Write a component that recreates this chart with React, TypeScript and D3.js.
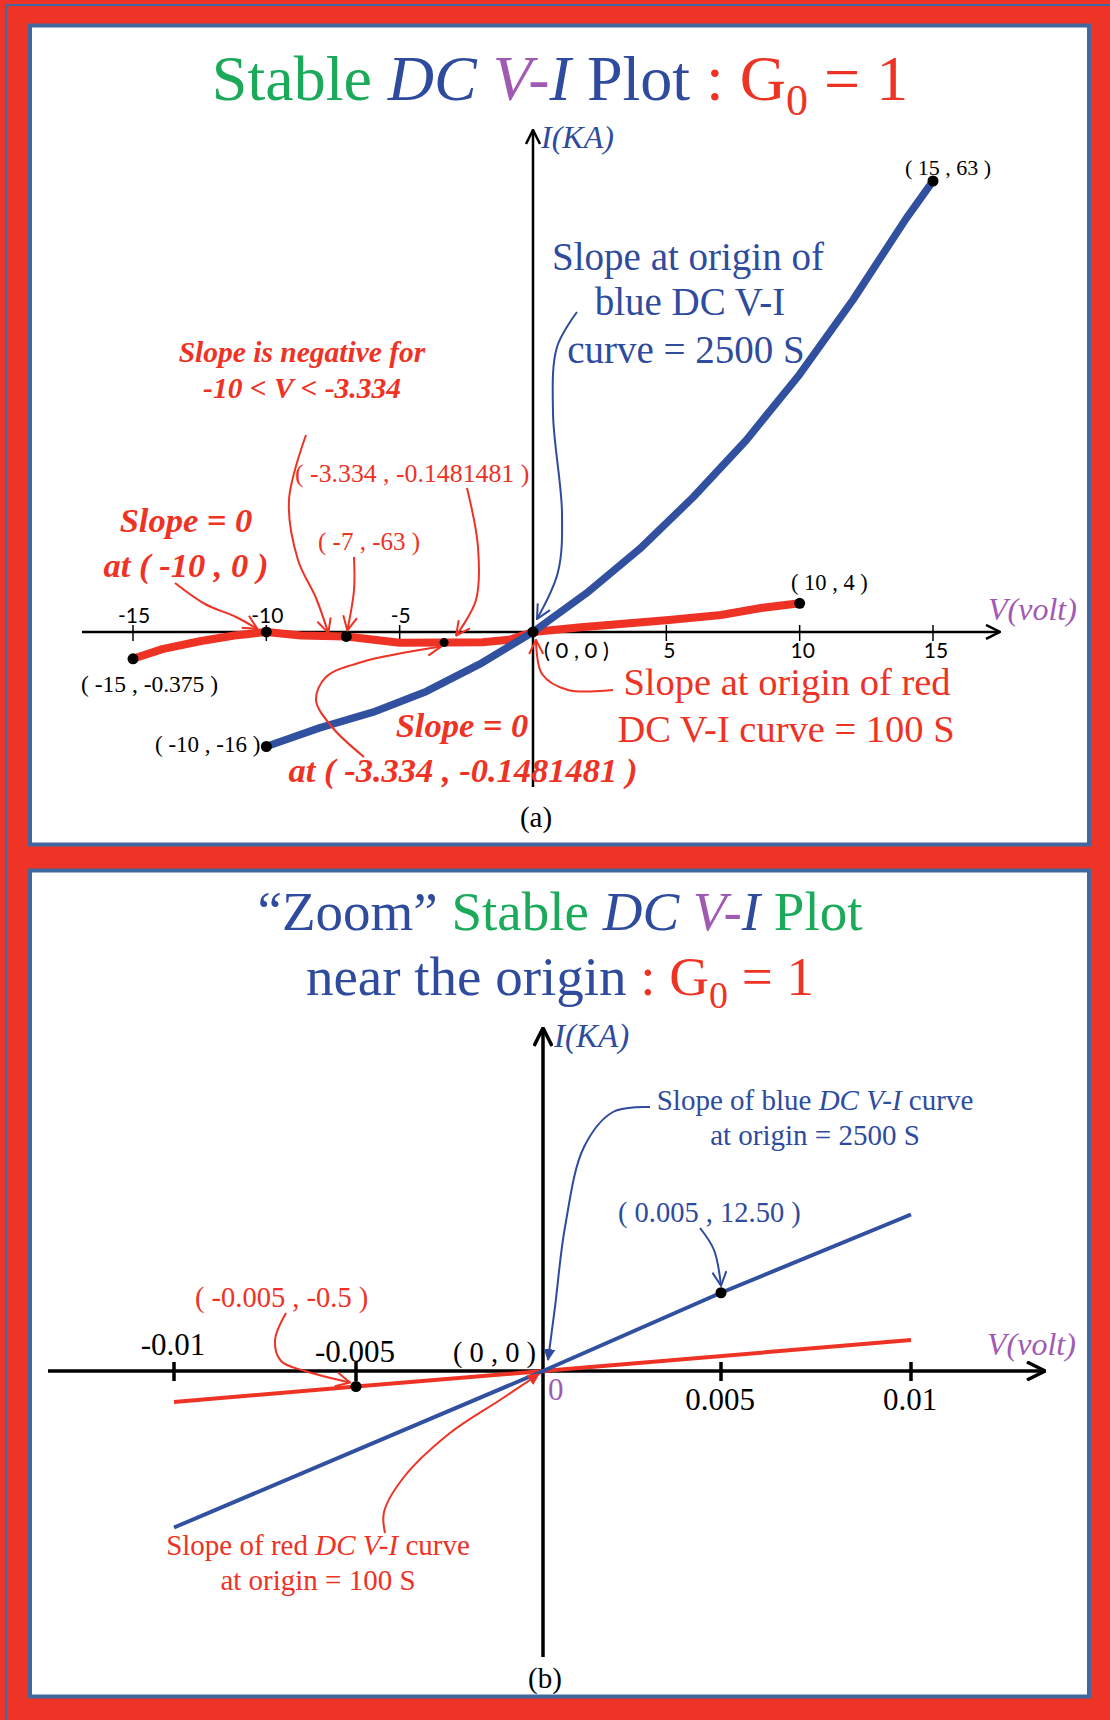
import React from "react";
import * as d3 from "d3";

// ---------- data: panel (a), full DC V-I curves ----------
const V_TICKS_A = [-15, -10, -5, 5, 10, 15];
// blue DC V-I curve, V in volt, I in KA
const BLUE_A_V = [-10, -8, -6, -4, -2, 0, 2, 4, 6, 8, 10, 12, 14, 15];
const BLUE_A_I = [-16, -13.4, -11.2, -8.3, -4.5, 0, 5.4, 11.6, 18.8, 26.8, 36, 46.4, 57.8, 63];
// red DC V-I curve
const RED_A_V = [-15, -13.9, -12.5, -11.2, -10, -8.7, -7, -5, -3.334, -1.9, -0.9, 0, 1.8, 5.1, 7.05, 8.55, 10];
const RED_A_I = [-0.375, -0.24, -0.13, -0.05, 0, -0.05, -0.063, -0.15, -0.1481481, -0.145, -0.11, 0, 0.66, 1.68, 2.37, 3.35, 4];
// marked points
const BLUE_A_DOTS: [number, number][] = [[15, 63], [-10, -16], [0, 0]];
const RED_A_DOTS: [number, number][] = [[-15, -0.375], [-10, 0], [-7, -0.063], [-3.334, -0.1481481], [10, 4]];

// ---------- data: panel (b), zoom near the origin ----------
const V_TICKS_B = [-0.01, -0.005, 0.005, 0.01];
const V_TICK_LABELS_B = ["-0.01", "-0.005", "0.005", "0.01"];
const BLUE_B_V = [-0.01, 0, 0.005, 0.01];
const BLUE_B_I = [-25, 0, 12.5, 25];
const RED_B_V = [-0.01, -0.005, 0, 0.01];
const RED_B_I = [-1, -0.5, 0, 1];
const BLUE_B_DOT: [number, number] = [0.005, 12.5];
const RED_B_DOT: [number, number] = [-0.005, -0.5];

// ---------- colours & fonts ----------
const RED = "#EE3224";
const BLUE = "#2E4B9E";
const CURVE_BLUE = "#3150A0";
const GREEN = "#1AAA5A";
const PURPLE = "#A05AB4";
const FRAME_RED = "#EE3426";
const FRAME_BLUE = "#41679F";
const SERIF = "'Liberation Serif', 'Times New Roman', serif";
const SANS = "Lato, 'Open Sans', sans-serif";

const zip = (a: number[], b: number[]) => a.map((v, i) => [v, b[i]] as [number, number]);

// ---------- scales ----------
const xA = d3.scaleLinear().domain([-15, 15]).range([133, 933]);
const yA = d3.scaleLinear().domain([-16, 63]).range([746.5, 181]);
// negative branch of the red curve is drawn ten times taller than the current axis
const yRedA = d3.scaleLinear().domain([-1, 0, 1]).range([yA(-10), yA(0), yA(1)]);

// hand-spaced tick marks on the zoomed voltage axis
const xB = d3.scaleLinear().domain([-0.01, -0.005, 0, 0.005, 0.01]).range([174, 356, 543, 721, 911]);
const yBlueB = d3.scaleLinear().domain([-25, 25]).range([1527.5, 1214.5]);
const yRedB = d3.scaleLinear().domain([-1, 1]).range([1402, 1340]);

const leader = d3.line<[number, number]>().curve(d3.curveCatmullRom.alpha(0.5));

function Markers() {
  const open = (id: string, color: string, w: number, s: number) => (
    <marker id={id} viewBox={`0 0 ${s} ${s}`} refX={s - 1} refY={s / 2} markerWidth={s} markerHeight={s}
      markerUnits="userSpaceOnUse" orient="auto">
      <path d={`M1,1 L${s - 1},${s / 2} L1,${s - 1}`} fill="none" stroke={color} strokeWidth={w} />
    </marker>
  );
  const solid = (id: string, color: string, s: number) => (
    <marker id={id} viewBox={`0 0 ${s} ${s}`} refX={s - 1} refY={s / 2} markerWidth={s} markerHeight={s}
      markerUnits="userSpaceOnUse" orient="auto">
      <path d={`M0,0 L${s},${s / 2} L0,${s} Z`} fill={color} />
    </marker>
  );
  return (
    <defs>
      {open("redOpen", RED, 2, 16)}
      {open("blueOpen", BLUE, 2, 16)}
      {open("axisA", "#000", 2.5, 16)}
      {open("axisB", "#000", 3.5, 20)}
      {solid("redSolid", RED, 12)}
      {solid("blueSolid", BLUE, 12)}
    </defs>
  );
}

function Leader({ pts, color, marker, w = 2 }: { pts: [number, number][]; color: string; marker: string; w?: number }) {
  return <path d={leader(pts) || ""} fill="none" stroke={color} strokeWidth={w} markerEnd={`url(#${marker})`} />;
}

function PanelA() {
  const x0 = xA(0);
  const y0 = yA(0);
  const line = d3.line<[number, number]>();
  const bluePath = line(zip(BLUE_A_V, BLUE_A_I).map(([v, i]) => [xA(v), yA(i)]));
  const redPath = line(zip(RED_A_V, RED_A_I).map(([v, i]) => [xA(v), yRedA(i)]));
  const m7 = RED_A_DOTS[2];
  const m3 = RED_A_DOTS[3];
  return (
    <g>
      {/* title */}
      <text x={560} y={100} textAnchor="middle" fontFamily={SERIF} fontSize={64} style={{ whiteSpace: "pre" }}>
        <tspan fill={GREEN}>Stable </tspan>
        <tspan fill={BLUE} fontStyle="italic">DC </tspan>
        <tspan fill={PURPLE} fontStyle="italic">V-</tspan>
        <tspan fill={BLUE} fontStyle="italic">I</tspan>
        <tspan fill={BLUE}> Plot </tspan>
        <tspan fill={RED}>: G</tspan>
        <tspan fill={RED} fontSize={44} dy={15}>0</tspan>
        <tspan fill={RED} dy={-15}> = 1</tspan>
      </text>

      {/* axes */}
      <line x1={82} x2={1000} y1={y0} y2={y0} stroke="#000" strokeWidth={2.5} markerEnd="url(#axisA)" />
      <line x1={x0} x2={x0} y1={787} y2={130} stroke="#000" strokeWidth={2.5} markerEnd="url(#axisA)" />
      {V_TICKS_A.map((t) => (
        <g key={t}>
          <line x1={xA(t)} x2={xA(t)} y1={y0 - 7} y2={y0 + 9} stroke="#000" strokeWidth={1.5} />
          <text x={xA(t) + (t < 0 ? 1 : 3)} y={t < 0 ? y0 - 9 : y0 + 26} textAnchor="middle" fontFamily={SANS} fontSize={21}>{t}</text>
        </g>
      ))}
      <text x={541} y={148} fontFamily={SERIF} fontStyle="italic" fontSize={32} fill={BLUE}>I(KA)</text>
      <text x={988} y={620} fontFamily={SERIF} fontStyle="italic" fontSize={32} fill={PURPLE}>V(volt)</text>

      {/* curves */}
      <path d={redPath || ""} fill="none" stroke={RED} strokeWidth={8} strokeLinejoin="round" strokeLinecap="round" />
      <path d={bluePath || ""} fill="none" stroke={CURVE_BLUE} strokeWidth={7.5} strokeLinejoin="round" />
      {RED_A_DOTS.map(([v, i]) => (
        <circle key={"r" + v} cx={xA(v)} cy={yRedA(i)} r={v === -3.334 ? 4.5 : 5.5} fill="#000" />
      ))}
      {BLUE_A_DOTS.map(([v, i]) => (
        <circle key={"b" + v} cx={xA(v)} cy={yA(i)} r={5.5} fill="#000" />
      ))}

      {/* point labels */}
      <text x={905} y={175} fontFamily={SERIF} fontSize={22}>( 15 , 63 )</text>
      <text x={791} y={590} fontFamily={SERIF} fontSize={22.5}>( 10 , 4 )</text>
      <text x={544} y={658} fontFamily={SANS} fontSize={22}>( 0 , 0 )</text>
      <text x={81} y={692} fontFamily={SERIF} fontSize={23.5}>( -15 , -0.375 )</text>
      <text x={155} y={752} fontFamily={SERIF} fontSize={23}>( -10 , -16 )</text>
      <text x={295} y={482} fontFamily={SERIF} fontSize={25.8} fill={RED}>( -3.334 , -0.1481481 )</text>
      <text x={318} y={550} fontFamily={SERIF} fontSize={25} fill={RED}>( -7 , -63 )</text>

      {/* annotations */}
      <g fontFamily={SERIF} fontSize={39} fill={BLUE} textAnchor="middle">
        <text x={688} y={270}>Slope at origin of</text>
        <text x={690} y={315}>blue DC V-I</text>
        <text x={686} y={363}>curve = 2500 S</text>
      </g>
      <g fontFamily={SERIF} fontSize={29.5} fill={RED} fontWeight="bold" fontStyle="italic" textAnchor="middle">
        <text x={302} y={362}>Slope is negative for</text>
        <text x={302} y={398}>-10 &lt; V &lt; -3.334</text>
      </g>
      <g fontFamily={SERIF} fontSize={34.5} fill={RED} fontWeight="bold" fontStyle="italic" textAnchor="middle">
        <text x={186} y={532}>Slope = 0</text>
        <text x={186} y={577}>at ( -10 , 0 )</text>
        <text x={462} y={737}>Slope = 0</text>
        <text x={463} y={782}>at ( -3.334 , -0.1481481 )</text>
      </g>
      <g fontFamily={SERIF} fontSize={38.5} fill={RED} textAnchor="middle">
        <text x={787} y={695}>Slope at origin of red</text>
        <text x={786} y={742}>DC V-I curve = 100 S</text>
      </g>
      <text x={536} y={827} textAnchor="middle" fontFamily={SERIF} fontSize={29}>(a)</text>

      {/* leaders */}
      <Leader color={RED} marker="redOpen" pts={[[175, 583], [205, 604], [236, 617], [xA(-10) - 9, y0 - 3]]} />
      <Leader color={RED} marker="redOpen" pts={[[306, 435], [289, 500], [298, 560], [316, 598], [xA(m7[0]) - 18, y0 + 1]]} />
      <Leader color={RED} marker="redOpen" pts={[[354, 557], [354, 590], [xA(m7[0]) + 1, yRedA(m7[1]) - 6]]} />
      <Leader color={RED} marker="redOpen" pts={[[467, 488], [478, 547], [476, 600], [xA(m3[0]) + 12, yRedA(m3[1]) - 7]]} />
      <Leader color={RED} marker="redOpen" pts={[[364, 757], [332, 727], [316, 700], [326, 677], [362, 662], [xA(m3[0]) - 3, yRedA(m3[1]) + 4]]} />
      <Leader color={BLUE} marker="blueOpen" pts={[[577, 312], [557, 347], [553, 413], [562, 513], [558, 572], [x0 + 4, y0 - 13]]} />
      <Leader color={RED} marker="redOpen" pts={[[613, 690], [568, 690], [542, 674], [x0 + 3, y0 + 8]]} />
    </g>
  );
}

function PanelB() {
  const x0 = xB(0);
  const y0 = yBlueB(0);
  const line = d3.line<[number, number]>();
  const bluePath = line(zip(BLUE_B_V, BLUE_B_I).map(([v, i]) => [xB(v), yBlueB(i)]));
  const redPath = line(zip(RED_B_V, RED_B_I).map(([v, i]) => [xB(v), yRedB(i)]));
  return (
    <g>
      <text x={560} y={930} textAnchor="middle" fontFamily={SERIF} fontSize={55} style={{ whiteSpace: "pre" }}>
        <tspan fill={BLUE}>“Zoom” </tspan>
        <tspan fill={GREEN}>Stable </tspan>
        <tspan fill={BLUE} fontStyle="italic">DC </tspan>
        <tspan fill={PURPLE} fontStyle="italic">V-</tspan>
        <tspan fill={BLUE} fontStyle="italic">I</tspan>
        <tspan fill={GREEN}> Plot</tspan>
      </text>
      <text x={560} y={995} textAnchor="middle" fontFamily={SERIF} fontSize={55} style={{ whiteSpace: "pre" }}>
        <tspan fill={BLUE}>near the origin </tspan>
        <tspan fill={RED}>: G</tspan>
        <tspan fill={RED} fontSize={38} dy={13}>0</tspan>
        <tspan fill={RED} dy={-13}> = 1</tspan>
      </text>

      {/* axes */}
      <line x1={48} x2={1045} y1={y0} y2={y0} stroke="#000" strokeWidth={3.5} markerEnd="url(#axisB)" />
      <line x1={x0} x2={x0} y1={1657} y2={1028} stroke="#000" strokeWidth={3.5} markerEnd="url(#axisB)" />
      {V_TICKS_B.map((t, k) => (
        <g key={t}>
          <line x1={xB(t)} x2={xB(t)} y1={y0 - 9} y2={y0 + 10} stroke="#000" strokeWidth={3.5} />
          <text x={xB(t) - 1} y={t < 0 ? (k === 0 ? y0 - 16 : y0 - 9) : y0 + 39} textAnchor="middle" fontFamily={SERIF} fontSize={31}>
            {V_TICK_LABELS_B[k]}
          </text>
        </g>
      ))}
      <text x={554} y={1047} fontFamily={SERIF} fontStyle="italic" fontSize={33} fill={BLUE}>I(KA)</text>
      <text x={987} y={1355} fontFamily={SERIF} fontStyle="italic" fontSize={32} fill={PURPLE}>V(volt)</text>
      <text x={548} y={1400} fontFamily={SERIF} fontSize={31} fill={PURPLE}>0</text>
      <text x={453} y={1362} fontFamily={SERIF} fontSize={28.5}>( 0 , 0 )</text>

      {/* lines */}
      <path d={redPath || ""} fill="none" stroke={RED} strokeWidth={4} />
      <path d={bluePath || ""} fill="none" stroke={CURVE_BLUE} strokeWidth={4} />
      <circle cx={xB(BLUE_B_DOT[0])} cy={yBlueB(BLUE_B_DOT[1])} r={5.5} fill="#000" />
      <circle cx={xB(RED_B_DOT[0])} cy={yRedB(RED_B_DOT[1])} r={5.5} fill="#000" />

      {/* labels */}
      <text x={618} y={1222} fontFamily={SERIF} fontSize={28.5} fill={BLUE}>( 0.005 , 12.50 )</text>
      <text x={195} y={1307} fontFamily={SERIF} fontSize={28.5} fill={RED}>( -0.005 , -0.5 )</text>
      <g fontFamily={SERIF} fontSize={29} fill={BLUE} textAnchor="middle" style={{ whiteSpace: "pre" }}>
        <text x={815} y={1110}>
          Slope of blue <tspan fontStyle="italic">DC V-I</tspan> curve
        </text>
        <text x={815} y={1145}>at origin = 2500 S</text>
      </g>
      <g fontFamily={SERIF} fontSize={29} fill={RED} textAnchor="middle" style={{ whiteSpace: "pre" }}>
        <text x={318} y={1555}>
          Slope of red <tspan fontStyle="italic">DC V-I</tspan> curve
        </text>
        <text x={318} y={1590}>at origin = 100 S</text>
      </g>
      <text x={545} y={1688} textAnchor="middle" fontFamily={SERIF} fontSize={29}>(b)</text>

      {/* leaders */}
      <Leader color={BLUE} marker="blueSolid" w={2} pts={[[650, 1107], [613, 1112], [584, 1147], [565, 1227], [555, 1307], [x0 + 5, y0 - 11]]} />
      <Leader color={BLUE} marker="blueOpen" w={2} pts={[[700, 1228], [714, 1250], [xB(BLUE_B_DOT[0]), yBlueB(BLUE_B_DOT[1]) - 7]]} />
      <Leader color={RED} marker="redOpen" w={2} pts={[[286, 1313], [275, 1340], [281, 1361], [305, 1371], [xB(RED_B_DOT[0]) - 6, yRedB(RED_B_DOT[1]) - 4]]} />
      <Leader color={RED} marker="redSolid" w={2} pts={[[385, 1533], [384, 1512], [404, 1477], [450, 1433], [500, 1400], [x0 - 4, y0 + 3]]} />
    </g>
  );
}

export default function App() {
  return (
    <div style={{ position: "absolute", left: 0, top: 0 }}>
      <svg width={1110} height={1720} viewBox="0 0 1110 1720" style={{ display: "block" }}>
        <Markers />
        <rect x={0} y={0} width={1110} height={1720} fill={FRAME_RED} />
        <rect x={6} y={5} width={1110} height={1720} fill="none" stroke={FRAME_BLUE} strokeWidth={2} />
        <rect x={30} y={25.5} width={1059} height={819} fill="#fff" stroke={FRAME_BLUE} strokeWidth={4} />
        <rect x={30} y={870.5} width={1059} height={826} fill="#fff" stroke={FRAME_BLUE} strokeWidth={4} />
        <PanelA />
        <PanelB />
      </svg>
    </div>
  );
}
